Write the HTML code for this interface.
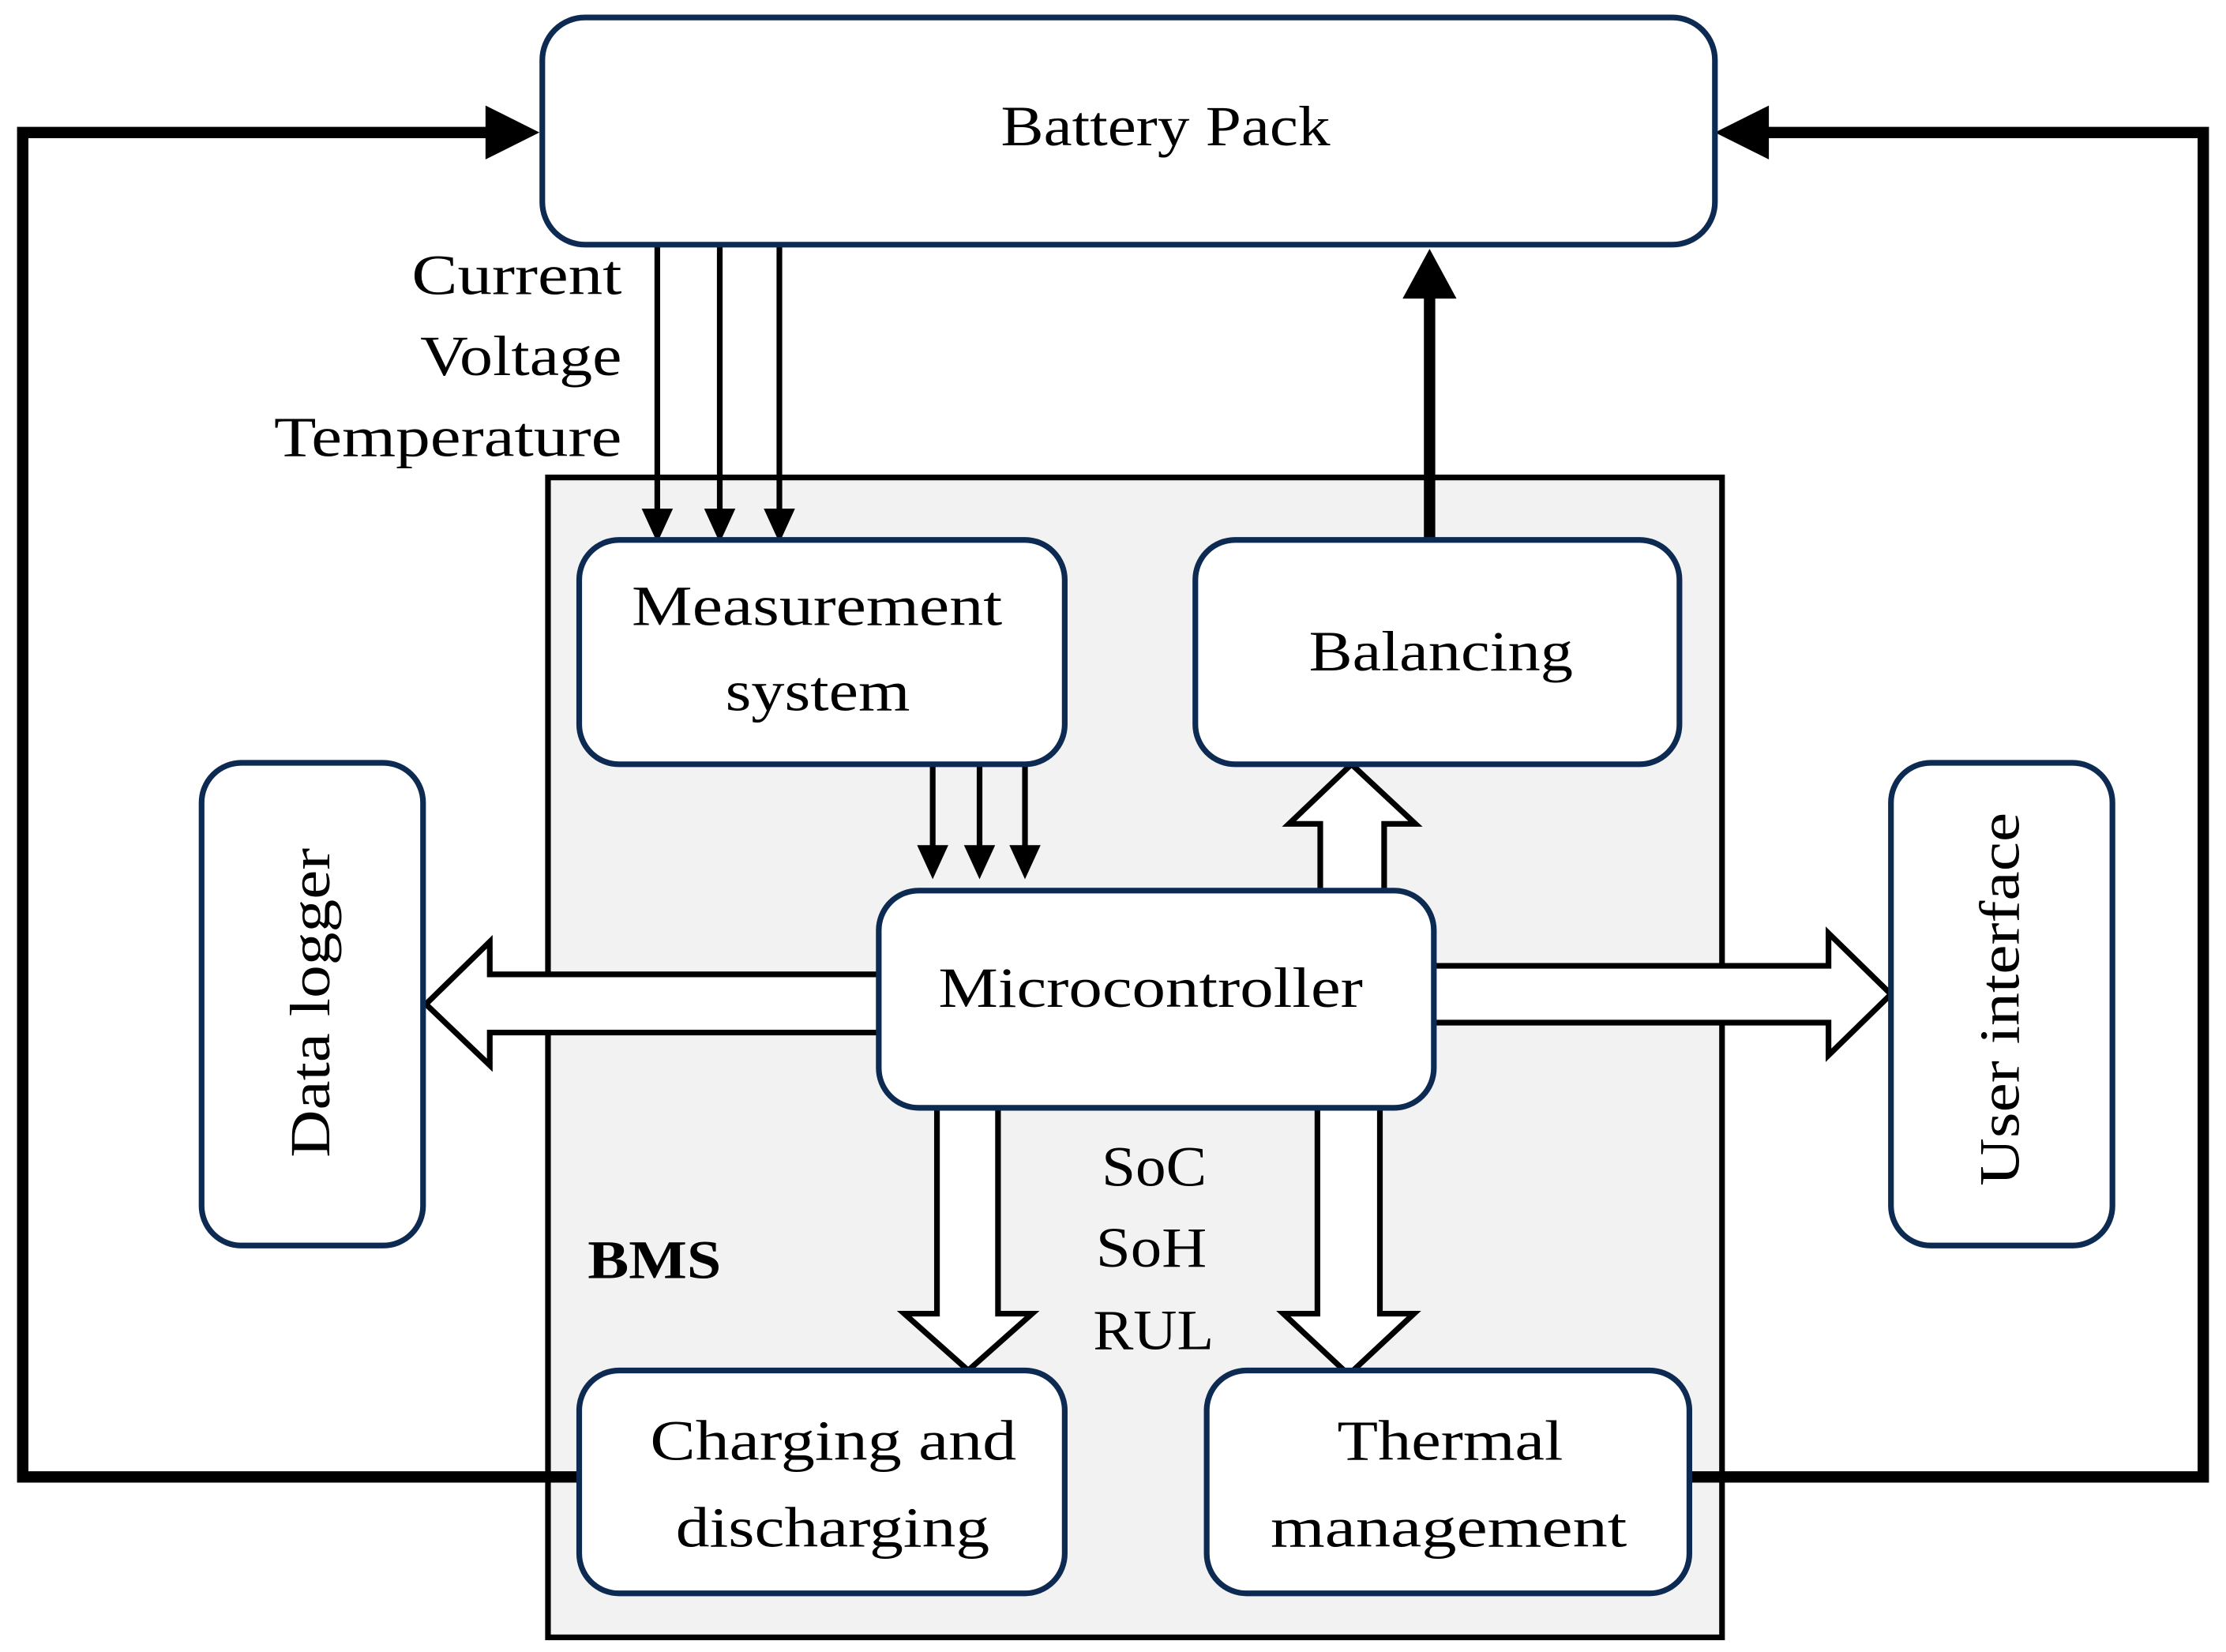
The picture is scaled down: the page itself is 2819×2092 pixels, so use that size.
<!DOCTYPE html>
<html><head><meta charset="utf-8"><style>
html,body{margin:0;padding:0;background:#fff}
svg{display:block}
text{font-family:"Liberation Serif",serif;fill:#000}
</style></head><body>
<svg width="2819" height="2092" viewBox="0 0 1568 1163" xmlns="http://www.w3.org/2000/svg">
<rect x="0" y="0" width="1568" height="1163" fill="#fff"/>
<rect x="386" y="336" width="827" height="817" fill="#f2f2f2" stroke="#000" stroke-width="4"/>
<polyline points="408,1040 16,1040 16,93 350,93" fill="none" stroke="#000" stroke-width="8"/>
<path d="M342,74 L380,93 L342,112 Z" fill="#000"/>
<polyline points="1190,1040 1552,1040 1552,93 1240,93" fill="none" stroke="#000" stroke-width="8"/>
<path d="M1246,74 L1208,93 L1246,112 Z" fill="#000"/>
<g stroke="#000" stroke-width="4">
<line x1="463" y1="172" x2="463" y2="360"/><line x1="507" y1="172" x2="507" y2="360"/><line x1="549" y1="172" x2="549" y2="360"/>
<line x1="657" y1="538" x2="657" y2="598"/><line x1="690" y1="538" x2="690" y2="598"/><line x1="722" y1="538" x2="722" y2="598"/>
</g>
<g fill="#000">
<path d="M452,358 L474,358 L463,382 Z"/><path d="M496,358 L518,358 L507,382 Z"/><path d="M538,358 L560,358 L549,382 Z"/>
<path d="M646,595 L668,595 L657,619 Z"/><path d="M679,595 L701,595 L690,619 Z"/><path d="M711,595 L733,595 L722,619 Z"/>
</g>
<line x1="1007" y1="380" x2="1007" y2="205" stroke="#000" stroke-width="8"/>
<path d="M988,210 L1007,175 L1026,210 Z" fill="#000"/>
<g fill="#fff" stroke="#000" stroke-width="4" stroke-linejoin="miter">
<path d="M930,630 L930,580 L908,580 L952,538 L997,580 L975,580 L975,630 Z"/>
<path d="M622,686 L345,686 L345,663 L300,707 L345,750 L345,727 L622,727 Z"/>
<path d="M1007,680 L1288,680 L1288,657 L1332,700 L1288,743 L1288,720 L1007,720 Z"/>
<path d="M660,777 L660,925 L637,925 L682,965 L727,925 L703,925 L703,777 Z"/>
<path d="M928,777 L928,925 L904,925 L950,968 L996,925 L972,925 L972,777 Z"/>
</g>
<g fill="#fff" stroke="#0d2a52" stroke-width="4">
<rect x="382" y="12" width="826" height="160" rx="30"/>
<rect x="408" y="380" width="342" height="158" rx="28"/>
<rect x="842" y="380" width="341" height="158" rx="28"/>
<rect x="142" y="537" width="156" height="340" rx="28"/>
<rect x="1332" y="537" width="156" height="340" rx="28"/>
<rect x="619" y="627" width="391" height="153" rx="28"/>
<rect x="408" y="965" width="342" height="157" rx="28"/>
<rect x="850" y="965" width="340" height="157" rx="28"/>
</g>
<g font-size="40" lengthAdjust="spacingAndGlyphs">
<text x="705" y="102" textLength="232" lengthAdjust="spacingAndGlyphs">Battery Pack</text>
<text x="445" y="440" textLength="261" lengthAdjust="spacingAndGlyphs">Measurement</text>
<text x="511" y="500" textLength="130" lengthAdjust="spacingAndGlyphs">system</text>
<text x="922" y="472" textLength="186" lengthAdjust="spacingAndGlyphs">Balancing</text>
<text x="661" y="709" textLength="299" lengthAdjust="spacingAndGlyphs">Microcontroller</text>
<text x="458" y="1028" textLength="258" lengthAdjust="spacingAndGlyphs">Charging and</text>
<text x="476" y="1089" textLength="221" lengthAdjust="spacingAndGlyphs">discharging</text>
<text x="942" y="1028" textLength="159" lengthAdjust="spacingAndGlyphs">Thermal</text>
<text x="895" y="1089" textLength="251" lengthAdjust="spacingAndGlyphs">management</text>
<text x="776" y="835" textLength="74" lengthAdjust="spacingAndGlyphs">SoC</text>
<text x="772" y="892" textLength="78" lengthAdjust="spacingAndGlyphs">SoH</text>
<text x="770" y="950" textLength="85" lengthAdjust="spacingAndGlyphs">RUL</text>
<text transform="translate(232,815) rotate(-90)" textLength="218" lengthAdjust="spacingAndGlyphs">Data logger</text>
<text transform="translate(1422,835) rotate(-90)" textLength="263" lengthAdjust="spacingAndGlyphs">User interface</text>
<text x="290" y="207" textLength="148" lengthAdjust="spacingAndGlyphs">Current</text>
<text x="296" y="264" textLength="142" lengthAdjust="spacingAndGlyphs">Voltage</text>
<text x="193" y="321" textLength="245" lengthAdjust="spacingAndGlyphs">Temperature</text>
</g>
<text x="414" y="900" font-size="38" font-weight="bold" textLength="94" lengthAdjust="spacingAndGlyphs">BMS</text>
</svg>
</body></html>
